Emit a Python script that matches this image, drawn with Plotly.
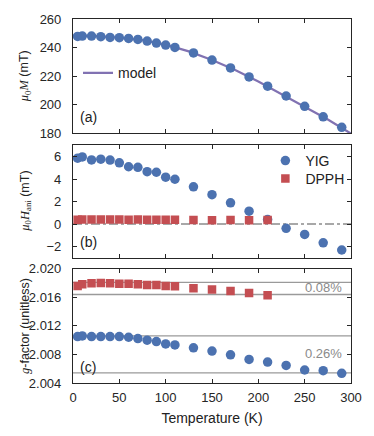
import plotly.graph_objects as go

# ---------------- data ----------------
T_yig = [5, 10, 20, 30, 40, 50, 60, 70, 80, 90, 100, 110, 130, 150, 170, 190, 210, 230, 250, 270, 290]
M_yig = [247.8, 248.0, 248.0, 247.6, 247.1, 246.9, 246.4, 245.7, 244.5, 243.1, 241.7, 240.1,
         236.2, 231.2, 225.7, 219.4, 212.9, 206.0, 198.8, 191.4, 184.0]

T_model = [0, 25, 50, 75, 100, 125, 150, 175, 200, 225, 250, 275, 300]
M_model = [248.3, 248.0, 247.0, 245.2, 242.0, 237.3, 231.2, 224.2, 216.2, 207.4, 198.6, 189.5, 179.6]

H_yig = [5.85, 5.96, 5.70, 5.76, 5.68, 5.44, 5.09, 5.04, 4.65, 4.60, 4.16, 3.98,
         3.31, 2.61, 1.88, 1.14, 0.40, -0.38, -0.93, -1.67, -2.31]

T_dpph = [5, 10, 20, 30, 40, 50, 60, 70, 80, 90, 100, 110, 130, 150, 170, 190, 210]
H_dpph = [0.38, 0.40, 0.40, 0.40, 0.40, 0.40, 0.38, 0.40, 0.38, 0.38, 0.38, 0.38,
          0.36, 0.34, 0.36, 0.34, 0.36]

g_dpph = [2.01757, 2.01781, 2.01794, 2.01799, 2.01794, 2.01790, 2.01790, 2.01781, 2.01771,
          2.01771, 2.01757, 2.01753, 2.01725, 2.01707, 2.01688, 2.01660, 2.01628]
g_yig = [2.01049, 2.01058, 2.01049, 2.01049, 2.01049, 2.01049, 2.01040, 2.01021, 2.00999,
         2.00979, 2.00947, 2.00933, 2.00892, 2.00846, 2.00794, 2.00729, 2.00693, 2.00646,
         2.00582, 2.00572, 2.00535]

g_lines = [2.01808, 2.01638, 2.01058, 2.00543]
pct_labels = ["0.08%", "0.26%"]
pct_y = [2.0173, 2.0081]

x_ticks = [0, 50, 100, 150, 200, 250, 300]
yA_ticks = [180, 200, 220, 240, 260]
yB_ticks = [-2, 0, 2, 4, 6]
yC_ticks = [2.004, 2.008, 2.012, 2.016, 2.020]

# ---------------- style ----------------
BLUE = "#4C72B0"
RED = "#C44E52"
PURPLE = "#8172B2"
GRAY = "#8c8c8c"
FRAME = "#262626"
FONT = "Liberation Sans, Arial, sans-serif"
SERIF = "Liberation Serif, DejaVu Serif, serif"

fig = go.Figure()

# panel (a)
fig.add_trace(go.Scatter(x=T_model, y=M_model, mode="lines", name="model",
                         line=dict(color=PURPLE, width=2.2), xaxis="x", yaxis="y",
                         legend="legend"))
fig.add_trace(go.Scatter(x=T_yig, y=M_yig, mode="markers", showlegend=False,
                         marker=dict(color=BLUE, size=9.5, symbol="circle"),
                         xaxis="x", yaxis="y"))

# panel (b)
fig.add_trace(go.Scatter(x=T_yig, y=H_yig, mode="markers", name="YIG",
                         marker=dict(color=BLUE, size=9.5, symbol="circle"),
                         xaxis="x2", yaxis="y2", legend="legend2"))
fig.add_trace(go.Scatter(x=T_dpph, y=H_dpph, mode="markers", name="DPPH",
                         marker=dict(color=RED, size=8.5, symbol="square"),
                         xaxis="x2", yaxis="y2", legend="legend3"))

# panel (c)
fig.add_trace(go.Scatter(x=T_dpph, y=g_dpph, mode="markers", showlegend=False,
                         marker=dict(color=RED, size=8.5, symbol="square"),
                         xaxis="x3", yaxis="y3"))
fig.add_trace(go.Scatter(x=T_yig, y=g_yig, mode="markers", showlegend=False,
                         marker=dict(color=BLUE, size=9.5, symbol="circle"),
                         xaxis="x3", yaxis="y3"))

shapes = []
# zero line in (b)
shapes.append(dict(type="line", xref="x2 domain", yref="y2", x0=0, x1=1, y0=0, y1=0,
                   line=dict(color=GRAY, width=1.6, dash="dashdot"), layer="below"))
for gv in g_lines:
    shapes.append(dict(type="line", xref="x3 domain", yref="y3", x0=0, x1=1, y0=gv, y1=gv,
                       line=dict(color="#9a9a9a", width=1.3), layer="below"))

annotations = []
for txt, yv in zip(pct_labels, pct_y):
    annotations.append(dict(text=txt, xref="x3 domain", yref="y3", x=0.975, y=yv,
                            xanchor="right", yanchor="middle", showarrow=False,
                            font=dict(family=FONT, size=13, color="#8a8a8a")))
for lab, ax in [("(a)", ""), ("(b)", "2"), ("(c)", "3")]:
    annotations.append(dict(text=lab, xref=f"x{ax} domain", yref=f"y{ax} domain",
                            x=0.018, y=0.05, xanchor="left", yanchor="bottom",
                            showarrow=False, font=dict(family=FONT, size=14, color="#222")))

ylab = [
    (f"<span style='font-family:{SERIF}'><i>μ</i><sub>0</sub><i>M</i></span> (mT)", "y domain"),
    (f"<span style='font-family:{SERIF}'><i>μ</i><sub>0</sub><i>H</i><sub>ani</sub></span> (mT)", "y2 domain"),
    (f"<span style='font-family:{SERIF}'><i>g</i></span>-factor (unitless)", "y3 domain"),
]
for txt, yr in ylab:
    annotations.append(dict(text=txt, xref="paper", yref=yr, x=-0.172, y=0.5,
                            xanchor="center", yanchor="middle", textangle=-90,
                            showarrow=False, font=dict(family=FONT, size=12.5, color="#222")))

axis_common = dict(showline=True, linecolor=FRAME, linewidth=1.1, mirror="ticks",
                   ticks="inside", ticklen=4, tickwidth=1.1, tickcolor=FRAME,
                   showgrid=False, zeroline=False,
                   tickfont=dict(family=FONT, size=13, color="#262626"))

xcommon = dict(axis_common, range=[0, 300], tickvals=x_ticks, domain=[0, 1])

leg_font = dict(family=FONT, size=14, color="#222")

fig.update_layout(
    width=374, height=436,
    margin=dict(l=73, r=22, t=16, b=53),
    paper_bgcolor="white", plot_bgcolor="white",
    font=dict(family=FONT, size=13, color="#222"),
    xaxis=dict(xcommon, anchor="y", showticklabels=False),
    xaxis2=dict(xcommon, anchor="y2", showticklabels=False),
    xaxis3=dict(xcommon, anchor="y3", ticklabelstandoff=2,
                title=dict(text="Temperature (K)", standoff=9,
                           font=dict(family=FONT, size=14, color="#222"))),
    yaxis=dict(axis_common, anchor="x", domain=[0.6866, 1.0], range=[180, 260],
               tickvals=yA_ticks, ticklabelstandoff=8),
    yaxis2=dict(axis_common, anchor="x2", domain=[0.3441, 0.6531], range=[-3, 7],
                tickvals=yB_ticks, ticklabelstandoff=8),
    yaxis3=dict(axis_common, anchor="x3", domain=[0.0, 0.3142], range=[2.004, 2.020],
                tickvals=yC_ticks, tickformat=".3f", ticklabelstandoff=8),
    legend=dict(x=0.018, y=0.851, xanchor="left", yanchor="middle",
                bgcolor="rgba(0,0,0,0)", font=leg_font),
    legend2=dict(x=0.692, y=0.610, xanchor="left", yanchor="middle",
                 bgcolor="rgba(0,0,0,0)", font=leg_font),
    legend3=dict(x=0.692, y=0.5605, xanchor="left", yanchor="middle",
                 bgcolor="rgba(0,0,0,0)", font=leg_font),
    shapes=shapes,
    annotations=annotations,
)

fig.write_html("out.html", config={"displayModeBar": False},
               post_script="document.body.style.margin='0';")
